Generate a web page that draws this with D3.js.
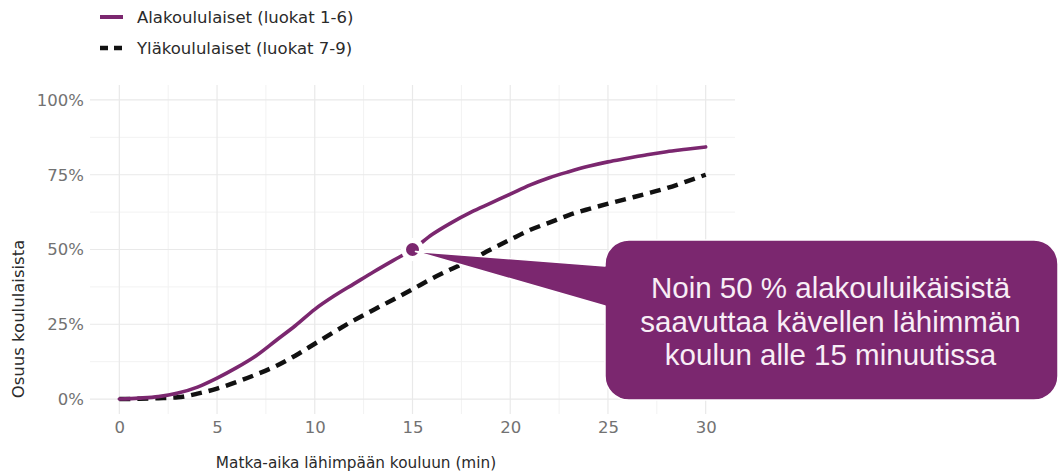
<!DOCTYPE html>
<html>
<head>
<meta charset="utf-8">
<script src="https://cdn.jsdelivr.net/npm/d3@7"></script>
<style>
  html, body { margin: 0; padding: 0; background: #ffffff; }
  svg { display: block; }
</style>
</head>
<body>
<svg id="chart" width="1059" height="472"></svg>
<script>
// Travel time to the nearest school (minutes)
const minutes = d3.range(0, 31);

// Cumulative share of pupils (%) reaching the nearest school on foot within the given time
const primaryShare = [0, 0.3, 0.8, 2.0, 4.0, 7.0, 10.5, 14.5, 19.5, 24.5, 30.0,
  34.5, 38.5, 42.5, 46.3, 50.0, 55.0, 59.0, 62.5, 65.5, 68.5,
  71.5, 74.0, 76.0, 77.8, 79.3, 80.5, 81.7, 82.7, 83.5, 84.3];
const secondaryShare = [0, 0.1, 0.3, 0.6, 1.8, 3.5, 5.7, 8.2, 11.0, 14.5, 18.5,
  22.5, 26.3, 29.8, 33.2, 36.7, 40.3, 43.5, 46.5, 50.0, 53.3,
  56.5, 59.0, 61.5, 63.5, 65.3, 67.0, 68.7, 70.5, 72.7, 75.0];

const seriesNames = ["Alakoululaiset (luokat 1-6)", "Yläkoululaiset (luokat 7-9)"];
const xTicks = [0, 5, 10, 15, 20, 25, 30];
const yTicks = [0, 25, 50, 75, 100];
const xTitle = "Matka-aika lähimpään kouluun (min)";
const yTitle = "Osuus koululaisista";
const highlightMinute = 15;
const calloutLines = ["Noin 50 % alakouluikäisistä", "saavuttaa kävellen lähimmän", "koulun alle 15 minuutissa"];

const purple = "#7b276f";
const font = "'DejaVu Sans', Lato, sans-serif";

const svg = d3.select("#chart");

const x = d3.scaleLinear().domain([-1.5, 31.5]).range([90, 735]);
const y = d3.scaleLinear().domain([-5, 105]).range([414, 85]);

// Grid: minor lines halfway between the major breaks
const xMinor = d3.range(2.5, 30, 5);
const yMinor = d3.range(12.5, 100, 25);
const grid = svg.append("g");
grid.selectAll(".vmin").data(xMinor).join("line")
  .attr("x1", d => x(d)).attr("x2", d => x(d)).attr("y1", y.range()[1]).attr("y2", y.range()[0])
  .attr("stroke", "#f2f2f2").attr("stroke-width", 1);
grid.selectAll(".hmin").data(yMinor).join("line")
  .attr("y1", d => y(d)).attr("y2", d => y(d)).attr("x1", x.range()[0]).attr("x2", x.range()[1])
  .attr("stroke", "#f2f2f2").attr("stroke-width", 1);
grid.selectAll(".vmaj").data(xTicks).join("line")
  .attr("x1", d => x(d)).attr("x2", d => x(d)).attr("y1", y.range()[1]).attr("y2", y.range()[0])
  .attr("stroke", "#e9e9e9").attr("stroke-width", 1.2);
grid.selectAll(".hmaj").data(yTicks).join("line")
  .attr("y1", d => y(d)).attr("y2", d => y(d)).attr("x1", x.range()[0]).attr("x2", x.range()[1])
  .attr("stroke", "#e9e9e9").attr("stroke-width", 1.2);

// Axes (labels only)
const xAxis = svg.append("g").attr("transform", `translate(0,${y.range()[0] + 2})`)
  .call(d3.axisBottom(x).tickValues(xTicks).tickSize(0).tickPadding(5).tickFormat(d3.format("d")));
const yAxis = svg.append("g").attr("transform", `translate(${x.range()[0] - 4},0)`)
  .call(d3.axisLeft(y).tickValues(yTicks).tickSize(0).tickPadding(2).tickFormat(d => d + "%"));
[xAxis, yAxis].forEach(a => {
  a.select(".domain").remove();
  a.selectAll("text").attr("font-family", font).attr("font-size", 16.5).attr("fill", "#727272");
});

// Axis titles
svg.append("text").attr("x", 356).attr("y", 468).attr("text-anchor", "middle")
  .attr("font-family", font).attr("font-size", 15.3).attr("fill", "#2a2a2a").text(xTitle);
svg.append("text").attr("transform", "translate(24,319) rotate(-90)").attr("text-anchor", "middle")
  .attr("font-family", font).attr("font-size", 16.5).attr("fill", "#2a2a2a").text(yTitle);

// Lines
const line = d3.line().x((d, i) => x(minutes[i])).y(d => y(d)).curve(d3.curveMonotoneX);
svg.append("path").datum(secondaryShare).attr("d", line)
  .attr("fill", "none").attr("stroke", "#111").attr("stroke-width", 4.5)
  .attr("stroke-dasharray", "11,7");
svg.append("path").datum(primaryShare).attr("d", line)
  .attr("fill", "none").attr("stroke", purple).attr("stroke-width", 3.6)
  .attr("stroke-linecap", "round");

// Highlight point
const hi = minutes.indexOf(highlightMinute);
const dotX = x(minutes[hi]), dotY = y(primaryShare[hi]);
svg.append("circle").attr("cx", dotX).attr("cy", dotY).attr("r", 9)
  .attr("fill", purple).attr("stroke", "#fff").attr("stroke-width", 5);

// Callout bubble with a tail pointing at the highlight point
const bx = 605, by = 240, bw = 453, bh = 160, r = 24;
const tailTop = 266, tailBottom = 306;
const p = d3.path();
p.moveTo(dotX + 3, dotY + 2);
p.lineTo(bx, tailTop);
p.lineTo(bx, by + r);
p.arcTo(bx, by, bx + r, by, r);
p.lineTo(bx + bw - r, by);
p.arcTo(bx + bw, by, bx + bw, by + r, r);
p.lineTo(bx + bw, by + bh - r);
p.arcTo(bx + bw, by + bh, bx + bw - r, by + bh, r);
p.lineTo(bx + r, by + bh);
p.arcTo(bx, by + bh, bx, by + bh - r, r);
p.lineTo(bx, tailBottom);
p.closePath();
svg.append("path").attr("d", p.toString())
  .attr("fill", purple).attr("stroke", "#fff").attr("stroke-width", 1.5).attr("stroke-linejoin", "round");

svg.append("g").selectAll("text").data(calloutLines).join("text")
  .attr("x", bx + bw / 2 - 1).attr("y", (d, i) => 298 + i * 33.5)
  .attr("text-anchor", "middle")
  .attr("font-family", "'Liberation Sans', Arial, sans-serif").attr("font-size", 29.5)
  .attr("fill", "#f8eef6").text(d => d);

// Legend
const legend = svg.append("g");
legend.append("line").attr("x1", 100).attr("x2", 123).attr("y1", 17).attr("y2", 17)
  .attr("stroke", purple).attr("stroke-width", 4);
legend.append("line").attr("x1", 100).attr("x2", 122).attr("y1", 48).attr("y2", 48)
  .attr("stroke", "#111").attr("stroke-width", 4.5).attr("stroke-dasharray", "8,6");
legend.selectAll("text").data(seriesNames).join("text")
  .attr("x", 137).attr("y", (d, i) => 23 + i * 31)
  .attr("font-family", font).attr("font-size", 16.5).attr("fill", "#2a2a2a").text(d => d);
</script>
</body>
</html>
